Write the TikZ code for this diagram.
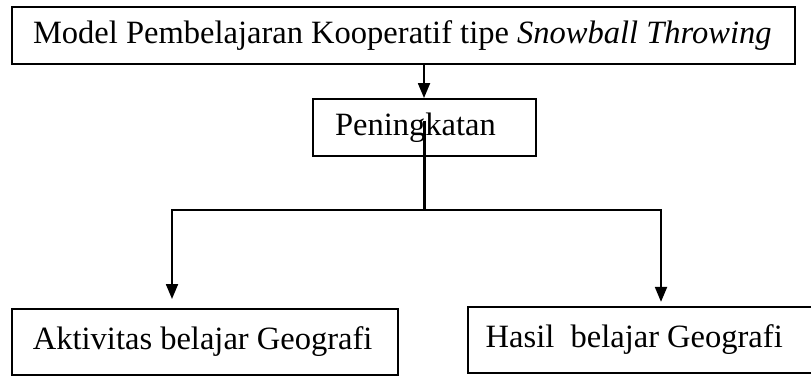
\documentclass[tikz,border=0pt]{standalone}
\usepackage{fontspec}
\setmainfont{Liberation Serif}
\usetikzlibrary{arrows.meta}

\begin{document}
\begin{tikzpicture}[->,>={Triangle[length=5.5pt,width=4.4pt]},x=0.369pt,y=-0.369pt,
                    line width=0.75pt]

  \tikzstyle{every node}=[font=\fontsize{12}{14}\selectfont]
  \tikzstyle{box}=[rectangle,draw,inner xsep=0pt,inner ysep=0pt]

  \useasboundingbox (0,0) rectangle (811,376);

  \node[box,minimum width=288.9pt,minimum height=21pt] (MPK) at (403.5,35.5)
        {\makebox[273.4pt][l]{Model Pembelajaran Kooperatif tipe \textit{Snowball Throwing}}};
  \node[box,minimum width=82.3pt,minimum height=21pt]  (PNG) at (424.5,127.5)
        {\makebox[66pt][l]{Peningkatan}};
  \node[box,minimum width=142.4pt,minimum height=24.4pt] (AKT) at (205,342)
        {\makebox[127pt][l]{Aktivitas belajar Geografi}};
  \node[box,minimum width=128pt,minimum height=24.4pt] (HSL) at (641.5,340)
        {\makebox[115pt][l]{Hasil\ \ belajar Geografi}};

  \coordinate (T) at (424,0);
  \coordinate (L) at (172,210);
  \coordinate (R) at (661,210);

  \draw (MPK.south -| T) -- (PNG.north -| T);
  \draw[-] ([yshift=2.5pt]PNG.center) -- (PNG.center |- L);
  \draw[shorten >=3.3pt] (PNG.center |- L) -- (L) -- (L |- AKT.north);
  \draw[shorten >=1.5pt] (PNG.center |- R) -- (R) -- (R |- HSL.north);
\end{tikzpicture}
\end{document}
